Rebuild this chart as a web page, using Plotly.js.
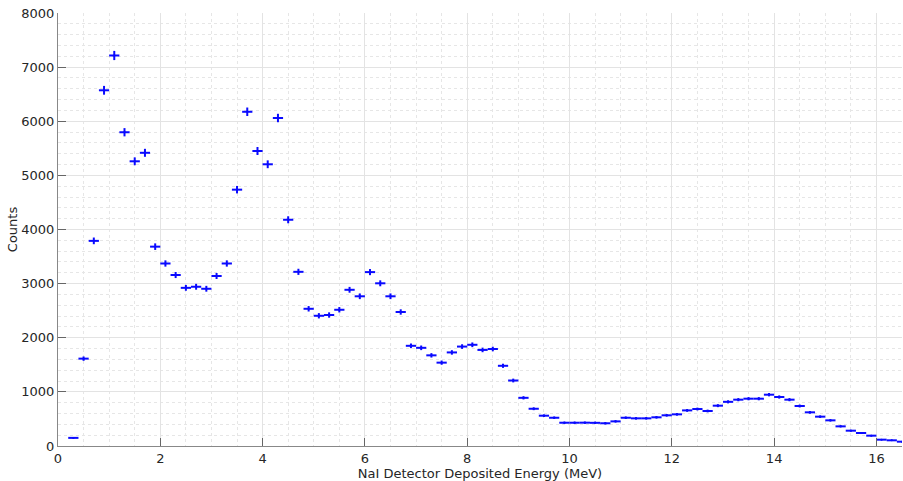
<!DOCTYPE html>
<html>
<head>
<meta charset="utf-8">
<script src="https://cdn.plot.ly/plotly-3.0.1.min.js"></script>
<style>html,body{margin:0;padding:0;background:#fff;}#chart{width:903px;height:481px;}</style>
</head>
<body>
<div id="chart"></div>
<script>
// Bin centres (MeV), bin width 0.2 MeV
const energy = [0.3,0.5,0.7,0.9,1.1,1.3,1.5,1.7,1.9,2.1,2.3,2.5,2.7,2.9,3.1,3.3,3.5,3.7,3.9,4.1,4.3,4.5,4.7,4.9,
  5.1,5.3,5.5,5.7,5.9,6.1,6.3,6.5,6.7,6.9,7.1,7.3,7.5,7.7,7.9,8.1,8.3,8.5,8.7,8.9,9.1,9.3,9.5,9.7,9.9,
  10.1,10.3,10.5,10.7,10.9,11.1,11.3,11.5,11.7,11.9,12.1,12.3,12.5,12.7,12.9,13.1,13.3,13.5,13.7,13.9,
  14.1,14.3,14.5,14.7,14.9,15.1,15.3,15.5,15.7,15.9,16.1,16.3,16.5];
const counts = [150,1614,3790,6572,7215,5797,5260,5417,3683,3372,3159,2922,2942,2905,3141,3372,4736,6175,5450,5205,6060,4180,3218,2535,
  2406,2420,2517,2886,2766,3213,3006,2766,2476,1851,1814,1675,1540,1729,1837,1870,1775,1792,1482,1210,890,688,560,522,430,
  430,431,428,420,455,522,511,511,530,567,585,658,683,647,745,816,856,874,874,948,
  905,856,739,622,542,474,363,283,240,191,117,105,80];
const binHalfWidth = 0.1;

const xTicks = [0,2,4,6,8,10,12,14,16];
const yTicks = [0,1000,2000,3000,4000,5000,6000,7000,8000];

const trace = {
  x: energy,
  y: counts,
  type: 'scatter',
  mode: 'markers',
  marker: {color: 'rgb(10,10,255)', size: 2},
  error_x: {type: 'constant', value: binHalfWidth, color: 'rgb(10,10,255)', thickness: 2, width: 0},
  error_y: {type: 'sqrt', color: 'rgb(10,10,255)', thickness: 2, width: 0},
  hoverinfo: 'x+y'
};

const font = {family: 'DejaVu Sans, sans-serif', size: 13, color: '#262626'};

const layout = {
  width: 903, height: 481,
  margin: {l: 58, r: 1, t: 13, b: 35},
  paper_bgcolor: '#fff', plot_bgcolor: '#fff',
  showlegend: false,
  font: font,
  xaxis: {
    range: [0, 16.5],
    tickvals: xTicks,
    ticktext: xTicks.map(String),
    ticks: 'inside', ticklen: 8, tickcolor: '#666', tickwidth: 1,
    showline: true, linecolor: '#888', linewidth: 1,
    showgrid: true, gridcolor: '#e3e3e3', gridwidth: 1,
    minor: {dtick: 0.5, showgrid: true, gridcolor: '#e6e6e6', griddash: 'dot', gridwidth: 1},
    zeroline: false,
    tickfont: font,
    title: {text: 'NaI Detector Deposited Energy (MeV)', font: font, standoff: 4}
  },
  yaxis: {
    range: [0, 8000],
    tickvals: yTicks,
    ticktext: yTicks.map(String),
    ticks: 'inside', ticklen: 8, tickcolor: '#666', tickwidth: 1,
    showline: true, linecolor: '#888', linewidth: 1,
    showgrid: true, gridcolor: '#e3e3e3', gridwidth: 1,
    minor: {dtick: 200, showgrid: true, gridcolor: '#e6e6e6', griddash: 'dot', gridwidth: 1},
    zeroline: false,
    tickfont: font,
    title: {text: 'Counts', font: font, standoff: 0}
  }
};

Plotly.newPlot('chart', [trace], layout, {displayModeBar: false, staticPlot: true});
</script>
</body>
</html>
